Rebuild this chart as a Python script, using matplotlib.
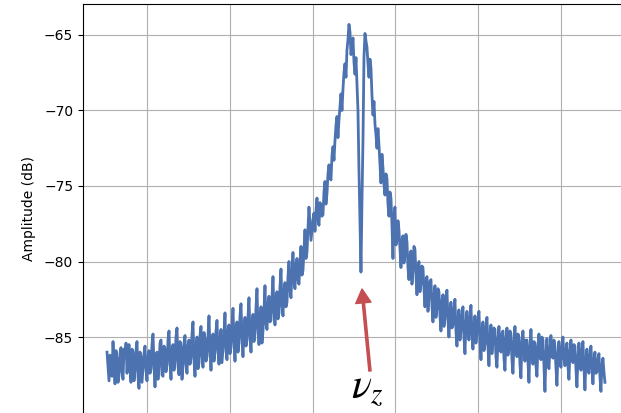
import numpy as np
import matplotlib
matplotlib.use("Agg")
import matplotlib.pyplot as plt

# frequency axis (arbitrary units, grid at integers)
f_start, f_stop = -0.483, 5.531
amplitude_db = [
    -86.0, -86.9, -87.9, -86.2, -86.6, -87.6, -85.3, -86.8, -88.1, -85.9, -86.4, -88.0, -87.5, -86.1, -85.7, -87.3, -87.8, -85.8, -86.2, -85.4,
    -87.4, -86.3, -85.5, -87.1, -88.0, -85.8, -86.0, -87.9, -87.2, -85.9, -85.3, -87.6, -88.4, -86.0, -86.3, -88.0, -87.0, -86.1, -85.6, -87.2,
    -87.9, -86.4, -85.9, -87.4, -87.1, -85.5, -84.8, -86.9, -88.3, -86.2, -86.0, -87.8, -86.9, -85.4, -85.2, -87.5, -87.6, -85.6, -85.8, -87.3,
    -86.8, -85.2, -84.6, -86.7, -87.8, -85.9, -85.5, -87.2, -86.6, -85.0, -84.4, -86.9, -87.5, -85.3, -85.6, -87.8, -86.9, -85.4, -84.9, -86.8,
    -87.4, -85.6, -85.2, -86.8, -86.4, -84.8, -84.0, -86.5, -87.6, -85.8, -85.0, -87.1, -86.7, -84.9, -84.3, -86.2, -87.0, -84.7, -85.1, -86.6,
    -86.3, -84.9, -83.6, -85.8, -87.2, -85.3, -84.8, -86.6, -86.0, -84.6, -83.9, -85.9, -86.8, -85.2, -84.5, -86.7, -85.8, -84.8, -83.4, -85.9,
    -86.5, -84.6, -84.2, -86.1, -85.7, -84.3, -83.1, -85.2, -86.6, -84.5, -84.0, -86.0, -85.4, -83.6, -82.8, -85.0, -86.3, -84.4, -83.7, -85.6,
    -85.2, -83.7, -82.4, -84.9, -86.0, -84.2, -83.5, -85.3, -84.8, -83.1, -81.8, -84.4, -85.5, -84.0, -83.0, -85.4, -84.6, -83.2, -81.6, -84.1,
    -84.5, -82.8, -82.3, -84.0, -83.9, -82.5, -81.0, -83.2, -84.2, -82.6, -82.0, -83.8, -83.4, -81.7, -80.5, -82.9, -83.6, -82.0, -81.4, -83.0,
    -82.7, -81.0, -80.0, -81.8, -82.4, -80.6, -79.4, -81.3, -81.8, -80.2, -79.8, -81.2, -81.5, -80.0, -79.0, -80.9, -80.6, -79.3, -77.9, -79.8,
    -79.4, -77.8, -76.4, -77.5, -78.6, -77.9, -77.2, -76.8, -78.0, -76.6, -75.8, -77.2, -77.6, -76.1, -76.3, -77.0, -76.9, -75.4, -74.7, -76.2,
    -75.5, -74.2, -73.6, -74.4, -74.6, -73.0, -72.4, -73.3, -72.0, -71.0, -70.4, -71.8, -70.6, -69.7, -68.9, -70.0, -68.6, -67.5, -66.9, -67.8,
    -66.0, -65.3, -64.3, -64.8, -66.3, -65.9, -65.2, -66.8, -67.6, -66.5, -68.2, -70.0, -74.0, -77.5, -80.7, -76.0, -72.0, -66.5, -64.9, -65.4,
    -65.8, -66.9, -67.8, -66.6, -67.2, -69.0, -70.3, -69.4, -70.9, -71.6, -72.5, -71.2, -72.3, -73.6, -74.8, -72.9, -73.8, -74.9, -75.6, -74.2,
    -74.5, -76.2, -77.0, -75.4, -75.8, -77.6, -79.8, -77.0, -76.4, -78.9, -78.6, -77.3, -77.9, -79.2, -80.4, -78.6, -78.3, -80.1, -79.6, -78.2,
    -78.7, -80.4, -81.2, -79.6, -79.3, -81.5, -80.6, -79.0, -79.2, -80.9, -82.2, -80.5, -80.0, -82.0, -81.5, -80.3, -80.4, -81.8, -83.0, -81.4,
    -81.0, -83.3, -82.4, -81.3, -81.2, -82.9, -84.0, -82.3, -81.6, -83.7, -83.1, -81.8, -82.0, -83.6, -84.6, -82.6, -82.2, -84.3, -83.8, -82.3,
    -81.9, -83.8, -85.0, -83.4, -82.7, -84.4, -84.2, -83.1, -82.5, -84.6, -85.6, -83.9, -83.2, -85.2, -84.6, -83.5, -83.0, -85.0, -86.1, -84.1,
    -83.3, -84.6, -85.2, -83.7, -82.9, -84.8, -85.8, -84.2, -83.6, -85.4, -84.7, -83.8, -83.3, -85.1, -86.5, -84.6, -84.0, -85.9, -85.5, -84.3,
    -83.7, -85.6, -86.9, -85.0, -84.2, -86.1, -85.3, -84.4, -84.5, -86.3, -87.0, -85.2, -84.3, -85.7, -86.0, -84.8, -84.6, -86.4, -87.2, -85.1,
    -84.4, -86.2, -85.8, -84.6, -84.8, -86.5, -87.4, -85.4, -84.3, -85.7, -86.3, -84.8, -85.0, -86.8, -87.7, -85.3, -84.6, -86.0, -86.6, -85.2,
    -85.2, -86.6, -88.0, -85.7, -84.5, -86.1, -86.8, -85.3, -85.4, -86.9, -87.6, -85.6, -84.8, -86.3, -86.5, -85.0, -85.2, -87.0, -88.6, -86.2,
    -85.1, -86.5, -87.1, -85.8, -84.9, -86.3, -86.4, -85.2, -85.6, -87.0, -88.2, -86.1, -85.3, -86.4, -87.0, -85.7, -85.0, -86.3, -86.9, -85.9,
    -85.4, -86.9, -87.8, -86.0, -85.2, -86.3, -86.7, -85.5, -85.6, -87.1, -88.3, -86.4, -85.4, -86.5, -87.2, -85.9, -85.3, -87.0, -88.5, -86.6,
    -85.8, -86.9, -87.4, -86.2, -85.6, -87.0, -88.1, -86.6, -86.0, -87.4, -87.3, -86.5, -86.1, -87.6, -88.6, -86.9, -86.4, -87.3, -88.0,
]
yticks = [-85, -80, -75, -70, -65]
xticks = [0, 1, 2, 3, 4, 5]
nu_z_tip = (2.597, -81.82)
nu_z_tail = (2.693, -87.25)
nu_z_label = (2.665, -88.35)

freq = np.linspace(f_start, f_stop, len(amplitude_db))

fig = plt.figure(figsize=(6.21, 4.13), dpi=100)
ax = fig.add_axes([83 / 621, 0.0, 1 - 83 / 621, 409 / 413])
ax.plot(freq, amplitude_db, color="#4c72b0", lw=2.0, solid_joinstyle="round")
ax.set_xlim(-0.773, 5.725)
ax.set_ylim(-90.03, -62.95)
ax.set_yticks(yticks)
ax.set_xticks(xticks)
ax.set_xticklabels([])
ax.tick_params(axis="x", length=0)
ax.tick_params(axis="y", labelsize=10)
ax.grid(True, color="#b0b0b0", lw=0.8)
ax.set_axisbelow(True)
for s in ("right", "bottom"):
    ax.spines[s].set_visible(False)
ax.set_ylabel("Amplitude (dB)", fontsize=10, labelpad=6)

ax.annotate("", xy=nu_z_tip, xytext=nu_z_tail,
            arrowprops=dict(facecolor="#c44e52", edgecolor="#c44e52",
                            width=1.6, headwidth=11, headlength=10))
ax.text(nu_z_label[0], nu_z_label[1], r"$\nu_z$", fontsize=30,
        ha="center", va="center", math_fontfamily="stix")

fig.savefig("out.png", dpi=100)
